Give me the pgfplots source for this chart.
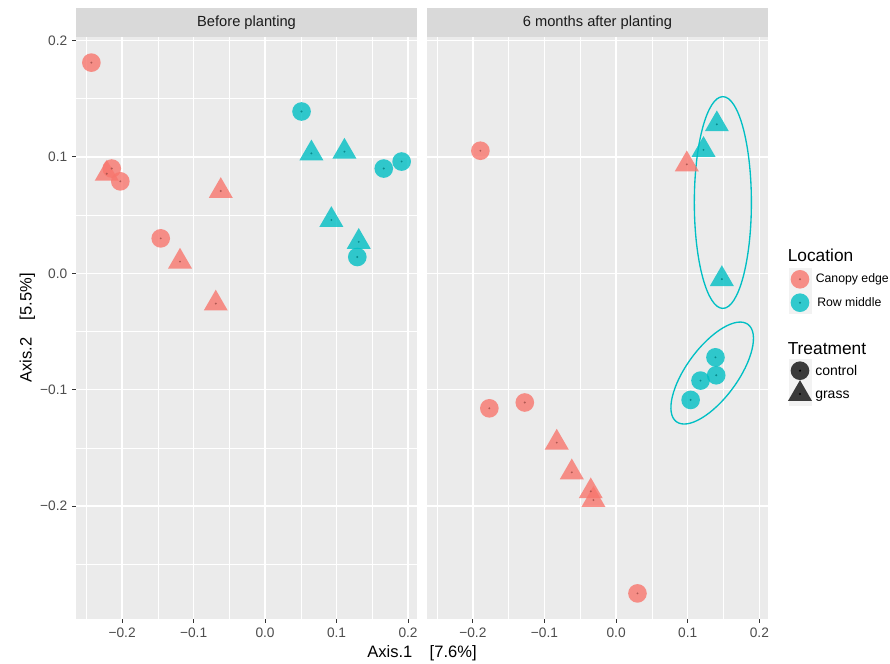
\documentclass[border=0pt]{standalone}
\usepackage{pgfplots}
\pgfplotsset{compat=1.18}
\usepackage{fontspec}
\setmainfont{Liberation Sans}
\definecolor{panelbg}{HTML}{EBEBEB}
\definecolor{stripbg}{HTML}{D9D9D9}
\definecolor{keybg}{HTML}{F2F2F2}
\definecolor{cRed}{HTML}{F8766D}
\definecolor{cTeal}{HTML}{00BFC4}
\definecolor{tickc}{HTML}{333333}
\definecolor{labc}{HTML}{4D4D4D}
\definecolor{stripc}{HTML}{1A1A1A}
\definecolor{keyc}{HTML}{3A3A3A}

\pgfplotsset{
  facet/.style={
    scale only axis, width=255.75pt, height=436.5pt,
    anchor=south west,
    xmin=-0.2645, xmax=0.2125, ymin=-0.297, ymax=0.203,
    axis background/.style={fill=panelbg},
    axis line style={draw=none},
    tick align=outside,
    xtick pos=bottom, ytick pos=left,
    major tick length=3pt,
    minor tick length=0pt,
    tick style={color=tickc, line width=0.8pt},
    xtick={-0.2,-0.1,0,0.1,0.2},
    xticklabels={−0.2,−0.1,0.0,0.1,0.2},
    minor xtick={-0.25,-0.15,-0.05,0.05,0.15},
    minor ytick={-0.25,-0.15,-0.05,0.05,0.15},
    grid=both,
    major grid style={white, line width=1pt},
    minor grid style={white, line width=0.5pt},
    ticklabel style={font=\fontsize{10.3}{12}\selectfont, text=labc},
    clip=true,
  },
  ctrl/.style={only marks, mark=*, mark size=7pt, mark options={draw=#1, draw opacity=0, fill=#1, fill opacity=0.8}},
  grs/.style={only marks, mark=triangle*, mark size=10.4pt, mark options={draw=#1, draw opacity=0, fill=#1, fill opacity=0.8}},
  dot/.style={only marks, mark=*, mark size=0.8pt, mark options={draw=#1, draw opacity=0, fill=#1!65!black, fill opacity=0.8}},
}

\pgfplotstableread{
x y
-0.243 0.181
-0.2145 0.090
-0.2025 0.079
-0.146 0.030
}\LRc
\pgfplotstableread{
x y
-0.2215 0.0855
-0.062 0.0707
-0.119 0.010
-0.069 -0.026
}\LRg
\pgfplotstableread{
x y
0.051 0.139
0.166 0.090
0.191 0.096
0.129 0.014
}\LTc
\pgfplotstableread{
x y
0.0648 0.103
0.111 0.1045
0.0927 0.0458
0.131 0.027
}\LTg
\pgfplotstableread{
x y
-0.1895 0.1053
-0.177 -0.116
-0.1275 -0.111
0.0298 -0.275
}\RRc
\pgfplotstableread{
x y
0.0987 0.0936
-0.0829 -0.1455
-0.0619 -0.171
-0.0354 -0.1873
-0.0317 -0.1948
}\RRg
\pgfplotstableread{
x y
0.1406 0.128
0.122 0.106
0.1476 -0.005
}\RTg
\pgfplotstableread{
x y
0.1387 -0.0722
0.1397 -0.0876
0.1178 -0.0922
0.104 -0.1088
}\RTc

\begin{document}
\begin{tikzpicture}
\path[use as bounding box] (0,0) rectangle (667.5pt,498pt);
% strips
\fill[stripbg] (57pt,470.25pt) rectangle (312.75pt,492pt);
\fill[stripbg] (320pt,470.25pt) rectangle (576.25pt,492pt);
\node[font=\fontsize{11}{13}\selectfont, text=stripc] at (184.9pt,481pt) {Before planting};
\node[font=\fontsize{11}{13}\selectfont, text=stripc] at (448.1pt,481pt) {6 months after planting};

\begin{axis}[facet, at={(57pt,33.75pt)},
  ytick={-0.2,-0.1,0,0.1,0.2},
  yticklabels={−0.2,−0.1,0.0,0.1,0.2}]
\addplot[ctrl=cRed] table {\LRc};
\addplot[grs=cRed] table {\LRg};
\addplot[ctrl=cTeal] table {\LTc};
\addplot[grs=cTeal] table {\LTg};
\addplot[dot=cRed] table {\LRc};
\addplot[dot=cRed] table {\LRg};
\addplot[dot=cTeal] table {\LTc};
\addplot[dot=cTeal] table {\LTg};
\end{axis}

\begin{axis}[facet, at={(320pt,33.75pt)}, width=256.25pt,
  ytick=\empty,
  extra y ticks={-0.2,-0.1,0,0.1,0.2},
  extra y tick labels={},
  extra y tick style={grid=major, major tick length=0pt, tick style={draw=none}}]
\addplot[ctrl=cRed] table {\RRc};
\addplot[grs=cRed] table {\RRg};
\addplot[grs=cTeal] table {\RTg};
\addplot[ctrl=cTeal] table {\RTc};
\addplot[dot=cRed] table {\RRc};
\addplot[dot=cRed] table {\RRg};
\addplot[dot=cTeal] table {\RTg};
\addplot[dot=cTeal] table {\RTc};
\draw[cTeal, line width=1pt] (axis cs:0.149,0.0608) ellipse [x radius=21.4pt, y radius=79.4pt];
\draw[cTeal, line width=1pt] (axis cs:0.1341,-0.0857) ellipse [x radius=45.3pt, y radius=19.2pt, rotate=53.7];
\end{axis}

% legend
\begin{axis}[at={(585pt,198pt)}, anchor=south west, scale only axis,
  width=82.5pt, height=120pt, xmin=780, xmax=890, ymin=-400, ymax=-240,
  hide axis, clip=false]
\fill[keybg] (axis cs:789,-268) rectangle (axis cs:811.5,-314);
\fill[keybg] (axis cs:789,-359) rectangle (axis cs:811.5,-406);
\addplot[ctrl=cRed] coordinates {(800,-279.3)};
\addplot[ctrl=cTeal] coordinates {(800,-302.7)};
\addplot[dot=cRed] coordinates {(800,-279.3)};
\addplot[dot=cTeal] coordinates {(800,-302.7)};
\addplot[only marks, mark=*, mark size=7pt, mark options={draw=keyc, draw opacity=0, fill=keyc}] coordinates {(800,-370.7)};
\addplot[only marks, mark=triangle*, mark size=10.4pt, mark options={draw=keyc, draw opacity=0, fill=keyc}] coordinates {(800,-394)};
\addplot[only marks, mark=*, mark size=0.9pt, mark options={draw=black, draw opacity=0, fill=black}] coordinates {(800,-370.7) (800,-394)};
\node[anchor=west, inner sep=0pt, font=\fontsize{13}{15}\selectfont] at (axis cs:787.5,-255) {Location};
\node[anchor=base west, inner sep=0pt, font=\fontsize{9.2}{11}\selectfont] at (axis cs:815.5,-283) {Canopy edge};
\node[anchor=base west, inner sep=0pt, font=\fontsize{9.2}{11}\selectfont] at (axis cs:817,-306.5) {Row middle};
\node[anchor=west, inner sep=0pt, font=\fontsize{13}{15}\selectfont] at (axis cs:787.5,-348.3) {Treatment};
\node[anchor=base west, inner sep=0pt, font=\fontsize{10.5}{12}\selectfont] at (axis cs:815,-375.5) {control};
\node[anchor=base west, inner sep=0pt, font=\fontsize{10.5}{12}\selectfont] at (axis cs:815,-399) {grass};
\end{axis}

% axis titles
\node[font=\fontsize{12.4}{14}\selectfont] at (316.5pt,8pt) {Axis.1\hspace{13pt}[7.6\%]};
\node[font=\fontsize{12.4}{14}\selectfont, rotate=90] at (20.5pt,252pt) {Axis.2\hspace{13pt}[5.5\%]};
\end{tikzpicture}
\end{document}
